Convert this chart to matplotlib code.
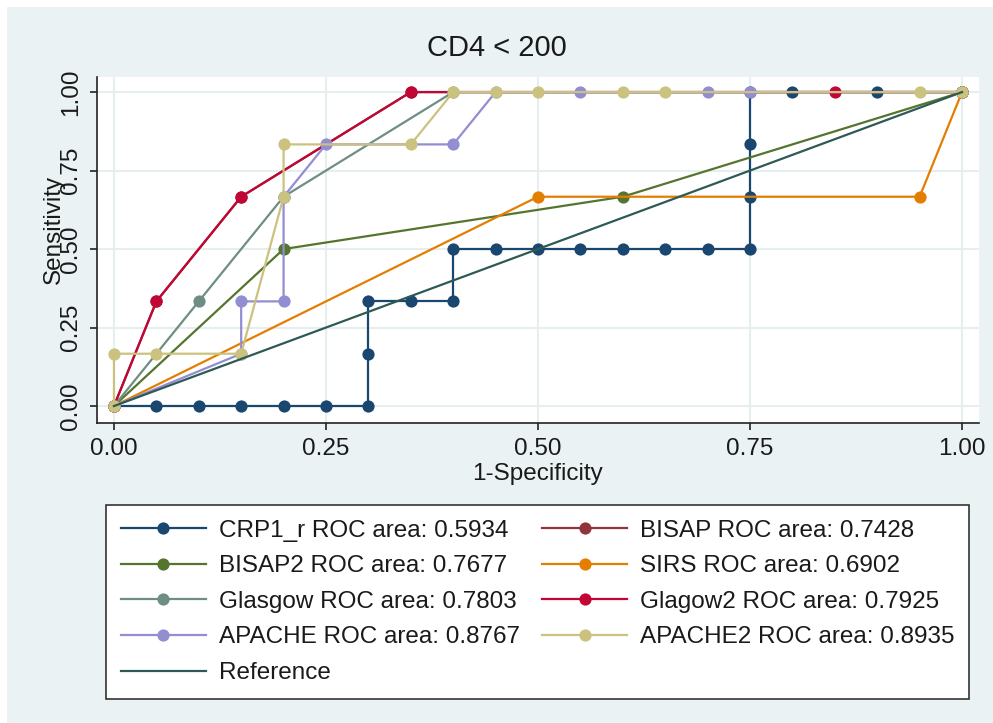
import matplotlib
matplotlib.use("Agg")
import matplotlib.pyplot as plt
from matplotlib.patches import Rectangle

plt.rcParams['font.family'] = ['Liberation Sans', 'DejaVu Sans']

# ROC coordinates (1-specificity, sensitivity) for each score
crp_x = [0, .05, .10, .15, .20, .25, .30, .30, .30, .35, .40, .40, .45, .50, .55, .60, .65, .70, .75, .75, .75, .75, .80, .90, 1]
crp_y = [0, 0, 0, 0, 0, 0, 0, 1/6, 1/3, 1/3, 1/3, .5, .5, .5, .5, .5, .5, .5, .5, 2/3, 5/6, 1, 1, 1, 1]

bisap_x = [0, .05, .15, .35, 1]
bisap_y = [0, 1/3, 2/3, 1, 1]

bisap2_x = [0, .20, .60, 1]
bisap2_y = [0, .5, 2/3, 1]

sirs_x = [0, .50, .95, 1]
sirs_y = [0, 2/3, 2/3, 1]

glasgow_x = [0, .10, .20, .40, 1]
glasgow_y = [0, 1/3, 2/3, 1, 1]

glagow2_x = [0, .05, .15, .35, .85, 1]
glagow2_y = [0, 1/3, 2/3, 1, 1, 1]

apache_x = [0, .15, .15, .20, .20, .25, .40, .45, .55, .70, .75, 1]
apache_y = [0, 1/6, 1/3, 1/3, 2/3, 5/6, 5/6, 1, 1, 1, 1, 1]

apache2_x = [0, 0, .05, .15, .20, .20, .35, .40, .45, .50, .60, .65, .95, 1]
apache2_y = [0, 1/6, 1/6, 1/6, 2/3, 5/6, 5/6, 1, 1, 1, 1, 1, 1, 1]

labels = ["CRP1_r ROC area: 0.5934", "BISAP ROC area: 0.7428",
          "BISAP2 ROC area: 0.7677", "SIRS ROC area: 0.6902",
          "Glasgow ROC area: 0.7803", "Glagow2 ROC area: 0.7925",
          "APACHE ROC area: 0.8767", "APACHE2 ROC area: 0.8935"]
colors = ["#1a476f", "#90353b", "#55752f", "#e37e00",
          "#6e8e84", "#c10534", "#938dd2", "#cac27e"]
ticks = [0, .25, .5, .75, 1]
tick_labels = ["0.00", "0.25", "0.50", "0.75", "1.00"]

fig = plt.figure(figsize=(9.93, 7.23), dpi=100, facecolor="white")
# light background panel, white strip on top and left
fig.patches.append(Rectangle((7/993, 0), 1, 1 - 7/723, transform=fig.transFigure,
                             facecolor="#eaf2f3", edgecolor="none", zorder=-10))

ax = fig.add_axes([97/993, 1 - 423/723, 882/993, 346/723])
ax.set_facecolor("white")

curves = [(crp_x, crp_y), (bisap_x, bisap_y), (bisap2_x, bisap2_y), (sirs_x, sirs_y),
          (glasgow_x, glasgow_y), (glagow2_x, glagow2_y), (apache_x, apache_y),
          (apache2_x, apache2_y)]
handles = []
for (xs, ys), c, lab in zip(curves, colors, labels):
    h, = ax.plot(xs, ys, color=c, lw=1.6, marker="o", markersize=8.8,
                 markeredgewidth=0, label=lab)
    handles.append(h)
ref, = ax.plot([0, 1], [0, 1], color="#2d5a55", lw=1.6, label="Reference")
handles.append(ref)

ax.set_xlim(-0.02, 1.02)
ax.set_ylim(-0.054, 1.048)
ax.set_xticks(ticks)
ax.set_xticklabels(tick_labels)
ax.set_yticks(ticks)
ax.set_yticklabels(tick_labels, rotation=90, va="center")
ax.grid(True, color="#e6eeef", lw=1.5)
ax.set_axisbelow(True)
for s in ["top", "right"]:
    ax.spines[s].set_visible(False)
for s in ["left", "bottom"]:
    ax.spines[s].set_color("#222222")
    ax.spines[s].set_linewidth(1.2)
ax.tick_params(length=5, width=1.2, color="#222222", labelsize=17.5, pad=6,
               labelcolor="#1a1a1a")

ax.set_xlabel("1-Specificity", fontsize=17.5, color="#1a1a1a", va="center")
ax.xaxis.set_label_coords(0.5, -0.147)
ax.set_ylabel("Sensitivity", fontsize=17.5, color="#1a1a1a", va="center")
ax.yaxis.set_label_coords(-0.049, 0.56)

fig.text(0.5, 1 - 48/723, "CD4 < 200", ha="center", va="center",
         fontsize=21, color="#1a1a1a")

# legend is filled row by row: reorder for matplotlib's column-wise fill
order = [0, 2, 4, 6, 8, 1, 3, 5, 7]
leg = fig.legend(handles=[handles[i] for i in order], ncol=2, loc="upper left",
                 bbox_to_anchor=(106/993, 1 - 696/723, 863/993, 191/723),
                 mode="expand", borderaxespad=0, fontsize=17.5, frameon=True,
                 fancybox=False, handlelength=3.5, handletextpad=0.53,
                 labelspacing=0.56, borderpad=0.6, numpoints=1)
frame = leg.get_frame()
frame.set_edgecolor("#333333")
frame.set_linewidth(1.2)
frame.set_facecolor("white")
frame.set_alpha(1)
for t in leg.get_texts():
    t.set_color("#1a1a1a")

fig.savefig("out.png", dpi=100)
